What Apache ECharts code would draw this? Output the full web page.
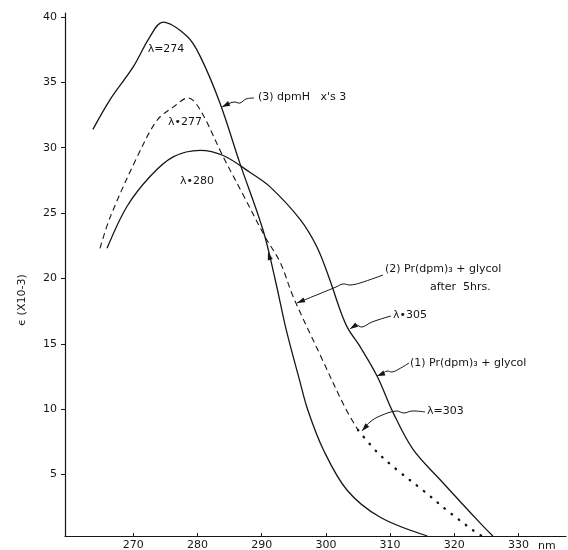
<!DOCTYPE html>
<html><head><meta charset="utf-8">
<script src="https://cdn.jsdelivr.net/npm/echarts@6/dist/echarts.min.js"></script>
<style>html,body{margin:0;padding:0;background:#fff}#c{width:568px;height:550px}</style>
</head><body><div id="c"></div>
<script>
// Tick labels
const xTicks = [270, 280, 290, 300, 310, 320, 330];
const yTicks = [5, 10, 15, 20, 25, 30, 35, 40];

// (3) dpmH  (peak lambda = 274)
const curve3 = [[263.7,31.4],[266.4,33.7],[270.0,36.2],[272.6,38.5],[274.6,39.6],[278.4,38.5],[280.4,37.0],[283.5,33.4],[286.6,28.8],[290.2,23.7],[292.1,19.9],[293.8,16.1],[295.9,12.2],[297.2,9.9],[299.6,6.9],[303.3,3.8],[308.4,1.75],[315.8,0.3]];
// (1) Pr(dpm)3 + glycol  (peak lambda = 280, shoulder 305)
const curve1 = [[265.9,22.3],[269.0,25.5],[272.6,27.8],[276.2,29.3],[280.4,29.8],[284.0,29.4],[288.2,28.1],[291.3,27.0],[296.0,24.5],[298.6,22.4],[300.6,19.9],[302.2,17.6],[303.4,16.2],[305.3,14.8],[308.0,12.5],[310.5,9.7],[313.6,6.9],[317.8,4.6],[324.0,1.3],[326.0,0.3]];
// (2) Pr(dpm)3 + glycol after 5hrs  (peak lambda = 277, shoulder 303)
const curve2 = [[264.8,22.3],[266.4,24.7],[270.6,29.3],[273.7,32.1],[276.2,33.1],[278.5,33.8],[280.4,32.9],[284.0,29.3],[287.1,26.4],[290.5,23.2],[292.9,21.2],[294.9,18.6],[299.1,14.15],[303.0,10.1],[305.0,8.4],[308.0,6.7],[311.1,5.35],[315.1,3.8],[319.4,2.05],[323.6,0.5],[324.3,0.3]];
const curve2DotFrom = 305.0; // dashed trace becomes dotted here

const curve2Dashed = curve2.filter(p => p[0] <= curve2DotFrom);
const curve2Dotted = curve2.filter(p => p[0] >= curve2DotFrom);

const INK = '#161616';
const FONT = 'DejaVu Sans';

const chart = echarts.init(document.getElementById('c'), null, {renderer: 'canvas'});

function head(tip, prev) {
  const dx = tip[0] - prev[0], dy = tip[1] - prev[1];
  const L = Math.hypot(dx, dy) || 1;
  const ux = dx / L, uy = dy / L;
  const bx = tip[0] - ux * 8, by = tip[1] - uy * 8;
  return {type: 'polygon', silent: true,
    shape: {points: [tip, [bx - uy * 2.6, by + ux * 2.6], [bx + uy * 2.6, by - ux * 2.6]]},
    style: {fill: INK}};
}
function arrow(points) {
  const n = points.length;
  return [
    {type: 'polyline', silent: true, shape: {points: points, smooth: 0.4},
     style: {stroke: INK, lineWidth: 1, fill: null}},
    head(points[n - 1], points[n - 2])
  ];
}
function txt(x, y, s, align) {
  return {type: 'text', silent: true, x: x, y: y,
    style: {text: s, fill: INK, font: '11px "' + FONT + '"', textAlign: align || 'left', textVerticalAlign: 'middle'}};
}

const graphics = [].concat(
  txt(166, 49, 'λ=274', 'center'),
  txt(185, 122, 'λ•277', 'center'),
  txt(197, 181, 'λ•280', 'center'),
  txt(258, 97, '(3) dpmH   x\'s 3'),
  arrow([[254, 98], [246, 99], [240, 103], [234, 102], [228, 104], [222, 107]]),
  head([268, 252], [271, 262]),
  txt(385, 269, '(2) Pr(dpm)₃ + glycol'),
  txt(430, 287, 'after  5hrs.'),
  arrow([[383, 275], [360, 283], [350, 285], [343, 284], [336, 287], [297, 303]]),
  txt(393, 315, 'λ•305'),
  arrow([[391, 316], [372, 322], [362, 327], [356, 325], [350, 329]]),
  txt(410, 363, '(1) Pr(dpm)₃ + glycol'),
  arrow([[409, 363], [399, 369], [392, 372], [387, 371], [382, 374], [377, 376]]),
  txt(427, 411, 'λ=303'),
  arrow([[425, 412], [412, 411], [404, 413], [396, 411], [380, 416], [370, 422], [362, 431]]),
  txt(538, 546, 'nm'),
  {type: 'text', silent: true, x: 22, y: 300, rotation: Math.PI / 2,
   style: {text: 'ϵ (X10-3)', fill: INK, font: '11px "' + FONT + '"', textAlign: 'center', textVerticalAlign: 'middle'}}
);

const lineBase = {type: 'line', showSymbol: false, symbol: 'none', smooth: 0.35, silent: true, animation: false, z: 3};

chart.setOption({
  animation: false,
  backgroundColor: '#ffffff',
  grid: {left: 65, right: 2, top: 13, bottom: 14, containLabel: false, outerBoundsMode: 'none'},
  xAxis: {
    type: 'value', min: 259.35, max: 337.4,
    axisLine: {onZero: false, lineStyle: {color: INK, width: 1.2}},
    axisTick: {show: true, inside: true, length: 3, customValues: xTicks, lineStyle: {color: INK}},
    axisLabel: {customValues: xTicks, color: INK, fontFamily: FONT, fontSize: 11, margin: 4},
    splitLine: {show: false}
  },
  yAxis: {
    type: 'value', min: 0.3, max: 40.3,
    axisLine: {show: true, onZero: false, lineStyle: {color: INK, width: 1.2}},
    axisTick: {show: true, inside: false, length: 4, customValues: yTicks, lineStyle: {color: INK}},
    axisLabel: {customValues: yTicks, color: INK, fontFamily: FONT, fontSize: 11, margin: 8},
    splitLine: {show: false}
  },
  series: [
    Object.assign({}, lineBase, {name: '(3) dpmH', data: curve3, lineStyle: {color: INK, width: 1.3}}),
    Object.assign({}, lineBase, {name: '(1) Pr(dpm)3 + glycol', data: curve1, lineStyle: {color: INK, width: 1.3}}),
    Object.assign({}, lineBase, {name: '(2) after 5hrs', data: curve2Dashed, lineStyle: {color: INK, width: 1.1, type: [6, 4]}}),
    Object.assign({}, lineBase, {name: '(2) after 5hrs dotted', data: curve2Dotted, lineStyle: {color: INK, width: 2.4, type: [0.5, 8.5], cap: 'round'}})
  ],
  graphic: graphics
});
</script>
</body></html>
